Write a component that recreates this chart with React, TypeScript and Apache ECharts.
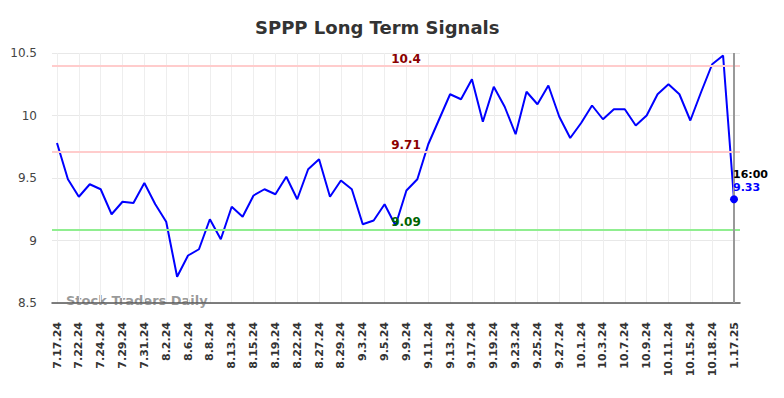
import React, { useEffect, useRef } from "react";
import * as echarts from "echarts";

const dates: string[] = [
  "7.17.24", "7.19.24", "7.22.24", "7.23.24", "7.24.24", "7.26.24", "7.29.24", "7.30.24",
  "7.31.24", "8.1.24", "8.2.24", "8.5.24", "8.6.24", "8.7.24", "8.8.24", "8.12.24",
  "8.13.24", "8.14.24", "8.15.24", "8.16.24", "8.19.24", "8.21.24", "8.22.24", "8.26.24",
  "8.27.24", "8.28.24", "8.29.24", "8.30.24", "9.3.24", "9.4.24", "9.5.24", "9.6.24",
  "9.9.24", "9.10.24", "9.11.24", "9.12.24", "9.13.24", "9.16.24", "9.17.24", "9.18.24",
  "9.19.24", "9.20.24", "9.23.24", "9.24.24", "9.25.24", "9.26.24", "9.27.24", "9.30.24",
  "10.1.24", "10.2.24", "10.3.24", "10.4.24", "10.7.24", "10.8.24", "10.9.24", "10.10.24",
  "10.11.24", "10.14.24", "10.15.24", "10.17.24", "10.18.24", "10.21.24", "1.17.25",
];

const prices: number[] = [
  9.78, 9.49, 9.35, 9.45, 9.41, 9.21, 9.31, 9.30, 9.46, 9.29, 9.15, 8.71, 8.88, 8.93,
  9.17, 9.01, 9.27, 9.19, 9.36, 9.41, 9.37, 9.51, 9.33, 9.57, 9.65, 9.35, 9.48, 9.41,
  9.13, 9.16, 9.29, 9.12, 9.40, 9.49, 9.77, 9.97, 10.17, 10.13, 10.29, 9.95, 10.23,
  10.07, 9.85, 10.19, 10.09, 10.24, 9.99, 9.82, 9.94, 10.08, 9.97, 10.05, 10.05, 9.92,
  10.0, 10.17, 10.25, 10.17, 9.96, 10.19, 10.41, 10.48, 9.33,
];

const resistanceHigh = 10.4;
const resistanceLow = 9.71;
const support = 9.09;
const lastTime = "16:00";
const yTicks = { min: 8.5, max: 10.5, interval: 0.5 };

export default function App() {
  const ref = useRef<HTMLDivElement>(null);

  useEffect(() => {
    if (!ref.current) return;
    const chart = echarts.init(ref.current, null, { renderer: "svg" });
    const lastIdx = prices.length - 1;
    const lastVal = prices[lastIdx];
    const font = "DejaVu Sans";

    chart.setOption({
      animation: false,
      backgroundColor: "#ffffff",
      textStyle: { fontFamily: font },
      title: {
        text: "SPPP Long Term Signals",
        left: 250,
        top: 13,
        textStyle: { fontFamily: font, fontSize: 18, fontWeight: "bold", color: "#333333" },
      },
      graphic: [
        {
          type: "text",
          left: 66,
          top: 294,
          z: 0,
          style: {
            text: "Stock Traders Daily",
            fontFamily: font,
            fontSize: 13,
            fontWeight: "bold",
            fill: "rgba(120,120,120,0.75)",
          },
        },
      ],
      grid: [
        { left: 52, right: 44, top: 53, bottom: 95 },
        { left: 57, right: 50, top: 53, bottom: 95 },
      ],
      xAxis: [
        {
          type: "value",
          gridIndex: 0,
          min: 0,
          max: 1,
          axisLabel: { show: false },
          axisTick: { show: false },
          splitLine: { show: false },
          axisLine: { show: true, onZero: false, lineStyle: { color: "#555555", width: 1.5 } },
        },
        {
          type: "category",
          gridIndex: 1,
          data: dates,
          boundaryGap: false,
          axisLine: { show: false },
          axisTick: { show: false },
          axisLabel: {
            interval: 1,
            rotate: 90,
            margin: 19,
            fontSize: 11,
            fontWeight: "bold",
            color: "#333333",
            fontFamily: font,
          },
          splitLine: { show: true, interval: 1, lineStyle: { color: "#eeeeee", width: 1 } },
        },
      ],
      yAxis: [
        {
          type: "value",
          gridIndex: 0,
          min: yTicks.min,
          max: yTicks.max,
          interval: yTicks.interval,
          axisLine: { show: false },
          axisTick: { show: false },
          axisLabel: { fontSize: 12, color: "#444444", margin: 15, fontFamily: font },
          splitLine: { show: true, lineStyle: { color: "#e8e8e8", width: 1 } },
        },
        {
          type: "value",
          gridIndex: 1,
          min: yTicks.min,
          max: yTicks.max,
          interval: yTicks.interval,
          axisLine: { show: false },
          axisTick: { show: false },
          axisLabel: { show: false },
          splitLine: { show: false },
        },
      ],
      series: [
        {
          type: "line",
          xAxisIndex: 0,
          yAxisIndex: 0,
          data: [],
          silent: true,
          markLine: {
            silent: true,
            symbol: "none",
            data: [
              {
                yAxis: resistanceHigh,
                lineStyle: { color: "#ffcccc", width: 2, type: "solid" },
                label: { color: "#8b0000" },
              },
              {
                yAxis: resistanceLow,
                lineStyle: { color: "#ffcccc", width: 2, type: "solid" },
                label: { color: "#8b0000" },
              },
              {
                yAxis: support,
                lineStyle: { color: "#90ee90", width: 2, type: "solid" },
                label: { color: "#006400" },
              },
            ],
            label: {
              show: true,
              position: "insideMiddleTop",
              distance: 1,
              offset: [10, 0],
              fontSize: 12,
              fontWeight: "bold",
              fontFamily: font,
              formatter: (p: any) => String(p.value),
            },
          },
        },
        {
          type: "line",
          xAxisIndex: 1,
          yAxisIndex: 1,
          data: prices,
          showSymbol: false,
          lineStyle: { color: "#0000ff", width: 2 },
          itemStyle: { color: "#0000ff" },
          z: 3,
          markLine: {
            silent: true,
            symbol: "none",
            label: { show: false },
            lineStyle: { color: "#999999", width: 2, type: "solid" },
            data: [{ xAxis: lastIdx }],
          },
          markPoint: {
            silent: true,
            symbol: "circle",
            symbolSize: 8,
            itemStyle: { color: "#0000ff" },
            data: [{ coord: [lastIdx, lastVal], value: lastVal }],
            label: {
              show: true,
              position: "top",
              align: "left",
              distance: 1,
              offset: [-1, 0],
              formatter: () => `{t|${lastTime}}\n{v|${lastVal.toFixed(2)}}`,
              rich: {
                t: { fontSize: 11, fontWeight: "bold", color: "#000000", lineHeight: 13, fontFamily: font },
                v: { fontSize: 11, fontWeight: "bold", color: "#0000ff", lineHeight: 13, fontFamily: font },
              },
            },
          },
        },
      ],
    });

    return () => chart.dispose();
  }, []);

  return (
    <div
      ref={ref}
      style={{ position: "absolute", left: 0, top: 0, width: 784, height: 398 }}
    />
  );
}
